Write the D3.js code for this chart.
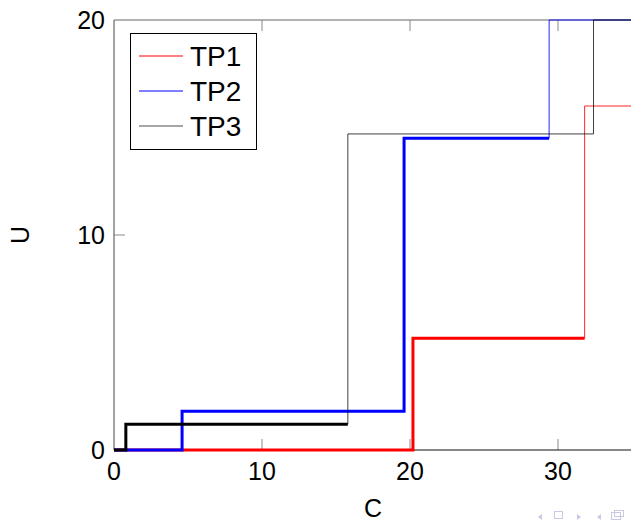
<!DOCTYPE html>
<html>
<head>
<meta charset="utf-8">
<script src="https://cdn.jsdelivr.net/npm/d3@7"></script>
<style>
  body { margin: 0; background: #fff; }
  svg { display: block; }
</style>
</head>
<body>
<div class="container"></div>
<script>
// step data (curveStepAfter), thick part then thin part of each series
var tp1ThickC = [0, 20.2, 31.8];
var tp1ThickU = [0, 5.2, 5.2];
var tp1ThinC = [31.8, 31.8, 36];
var tp1ThinU = [5.2, 16, 16];

var tp2ThickC = [0, 4.6, 19.6, 29.4];
var tp2ThickU = [0, 1.8, 14.5, 14.5];
var tp2ThinC = [29.4, 29.4, 36];
var tp2ThinU = [14.5, 20, 20];

var tp3ThickC = [0, 0.8, 15.8];
var tp3ThickU = [0, 1.2, 1.2];
var tp3ThinC = [15.8, 15.8, 32.4, 36];
var tp3ThinU = [1.2, 14.7, 20, 20];

var seriesNames = ["TP1", "TP2", "TP3"];
var seriesColors = ["#ff0000", "#0000ff", "#000000"];
var xTicks = [0, 10, 20, 30];
var yTicks = [0, 10, 20];

var width = 631, height = 522;
var svg = d3.select(".container").append("svg")
	.attr("width", width)
	.attr("height", height);

var x = d3.scaleLinear().domain([0, 35]).range([114, 632]);
var y = d3.scaleLinear().domain([0, 20]).range([450, 20]);

svg.append("clipPath").attr("id", "plotclip")
	.append("rect")
	.attr("x", x(0) - 2).attr("y", y(20) - 2)
	.attr("width", x(35) - x(0) + 4).attr("height", y(0) - y(20) + 4);

// ticks (inside, top and bottom / left)
var tickColor = "#8a8a8a";
var tg = svg.append("g");
xTicks.slice(1).forEach(function(t) {
	tg.append("line").attr("x1", x(t)).attr("x2", x(t)).attr("y1", y(0)).attr("y2", y(0) - 11)
		.attr("stroke", tickColor).attr("stroke-width", 1);
	tg.append("line").attr("x1", x(t)).attr("x2", x(t)).attr("y1", y(20)).attr("y2", y(20) + 11)
		.attr("stroke", tickColor).attr("stroke-width", 1);
});
yTicks.slice(1, -1).forEach(function(t) {
	tg.append("line").attr("x1", x(0)).attr("x2", x(0) + 11).attr("y1", y(t)).attr("y2", y(t))
		.attr("stroke", tickColor).attr("stroke-width", 1);
});

// frame
svg.append("line").attr("x1", x(0)).attr("x2", width).attr("y1", y(20)).attr("y2", y(20))
	.attr("stroke", "#666").attr("stroke-width", 1.2);
svg.append("line").attr("x1", x(0)).attr("x2", x(0)).attr("y1", y(20)).attr("y2", y(0))
	.attr("stroke", "#666").attr("stroke-width", 1.2);
svg.append("line").attr("x1", x(0)).attr("x2", width).attr("y1", y(0)).attr("y2", y(0))
	.attr("stroke", "#111").attr("stroke-width", 1.2);

// tick labels
var font = "'Liberation Sans', Arial, sans-serif";
svg.append("g").selectAll("text").data(xTicks).enter().append("text")
	.attr("x", function(d) { return x(d); })
	.attr("y", 480)
	.attr("text-anchor", "middle")
	.attr("font-family", font).attr("font-size", 25)
	.text(function(d) { return d; });
svg.append("g").selectAll("text").data(yTicks).enter().append("text")
	.attr("x", 105)
	.attr("y", function(d) { return y(d) + 9; })
	.attr("text-anchor", "end")
	.attr("font-family", font).attr("font-size", 25)
	.text(function(d) { return d; });

// axis titles
svg.append("text").attr("x", 373).attr("y", 517).attr("text-anchor", "middle")
	.attr("font-family", font).attr("font-size", 25).text("C");
svg.append("text").attr("transform", "translate(29,235) rotate(-90)").attr("text-anchor", "middle")
	.attr("font-family", font).attr("font-size", 25).text("U");

// series
var line = d3.line()
	.x(function(d) { return x(d[0]); })
	.y(function(d) { return y(d[1]); })
	.curve(d3.curveStepAfter);

function pts(cs, us) { return cs.map(function(c, i) { return [c, us[i]]; }); }

var plot = svg.append("g").attr("clip-path", "url(#plotclip)");
var thick = [pts(tp1ThickC, tp1ThickU), pts(tp2ThickC, tp2ThickU), pts(tp3ThickC, tp3ThickU)];
var thin = [pts(tp1ThinC, tp1ThinU), pts(tp2ThinC, tp2ThinU), pts(tp3ThinC, tp3ThinU)];

thick.forEach(function(d, i) {
	plot.append("path").attr("d", line(d)).attr("fill", "none")
		.attr("stroke", seriesColors[i]).attr("stroke-width", 3);
});
thin.forEach(function(d, i) {
	plot.append("path").attr("d", line(d)).attr("fill", "none")
		.attr("stroke", seriesColors[i]).attr("stroke-width", 1)
		.attr("stroke-opacity", i === 2 ? 0.75 : 0.85);
});

// legend
var lg = svg.append("g");
lg.append("rect").attr("x", 130.5).attr("y", 33.5).attr("width", 126).attr("height", 116)
	.attr("fill", "#fff").attr("stroke", "#000").attr("stroke-width", 1);
seriesNames.forEach(function(name, i) {
	var yy = 56 + i * 35;
	lg.append("line").attr("x1", 139).attr("x2", 183).attr("y1", yy).attr("y2", yy)
		.attr("stroke", seriesColors[i]).attr("stroke-width", 1)
		.attr("stroke-opacity", i === 2 ? 0.7 : 1);
	lg.append("text").attr("x", 190).attr("y", yy + 9.5)
		.attr("font-family", font).attr("font-size", 28).text(name);
});

// beamer navigation symbols
var nav = svg.append("g").attr("fill", "#c9c9e6").attr("stroke", "#c9c9e6");
nav.append("path").attr("d", "M538,517 l4,-3 v6 z").attr("stroke", "none");
nav.append("rect").attr("x", 554.5).attr("y", 511.5).attr("width", 8).attr("height", 7).attr("fill", "none");
nav.append("path").attr("d", "M577,514 l4,3 l-4,3 z").attr("stroke", "none");
nav.append("path").attr("d", "M597,517 l4,-3 v6 z").attr("stroke", "none");
nav.append("rect").attr("x", 611.5).attr("y", 512.5).attr("width", 9).attr("height", 7).attr("fill", "none");
nav.append("rect").attr("x", 614.5).attr("y", 510.5).attr("width", 9).attr("height", 6).attr("fill", "none");
</script>
</body>
</html>
